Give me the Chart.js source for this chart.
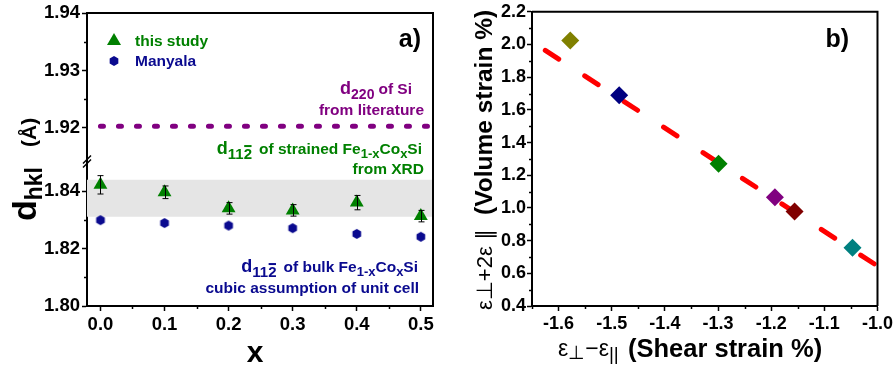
<!DOCTYPE html>
<html><head><meta charset="utf-8">
<script src="https://cdn.jsdelivr.net/npm/chart.js@4/dist/chart.umd.min.js"></script>
<style>
html,body{margin:0;padding:0;background:#fff;width:895px;height:371px;overflow:hidden}
#ca{position:absolute;left:0;top:0}
#cb{position:absolute;left:445px;top:0}
</style></head><body>
<canvas id="ca" width="445" height="371"></canvas>
<canvas id="cb" width="450" height="371"></canvas>
<script>
// ---------- data: panel a ----------
const xComposition = [0.0, 0.1, 0.2, 0.3, 0.4, 0.5];
const dThisStudy = [1.8422, 1.8396, 1.8340, 1.8333, 1.8360, 1.8313];
const dThisStudyErr = [0.0032, 0.0022, 0.0020, 0.0020, 0.0025, 0.0020];
const dManyala = [1.8299, 1.8289, 1.8280, 1.8271, 1.8251, 1.8241];
const dSi220 = 1.9203;
const siLineX = [0.0, 0.512];
const bandRange = [1.8311, 1.8440];
const xRangeA = [-0.021, 0.519];
const yRangeLow = [1.80, 1.851];
const yRangeHigh = [1.9145, 1.94];
const xTicksA = [0.0, 0.1, 0.2, 0.3, 0.4, 0.5];
const xMinorA = [0.05, 0.15, 0.25, 0.35, 0.45];
const yTicksLow = [1.80, 1.82, 1.84];
const yMinorLow = [1.81, 1.83];
const yTicksHigh = [1.92, 1.93, 1.94];
const yMinorHigh = [1.925, 1.935];

// ---------- data: panel b ----------
const shearStrain = [-1.578, -1.486, -1.299, -1.193, -1.156, -1.047];
const volumeStrain = [2.025, 1.690, 1.270, 1.066, 0.978, 0.756];
const pointColors = ['#808000', '#000080', '#008000', '#800080', '#800000', '#008080'];
const fitX = [-1.625, -1.0];
const fitY = [1.964, 0.645];
const xRangeB = [-1.65, -1.0];
const yRangeB = [0.4, 2.2];
const xTicksB = [-1.6, -1.5, -1.4, -1.3, -1.2, -1.1, -1.0];
const xMinorB = [-1.65, -1.55, -1.45, -1.35, -1.25, -1.15, -1.05];
const yTicksB = [0.4, 0.6, 0.8, 1.0, 1.2, 1.4, 1.6, 1.8, 2.0, 2.2];
const yMinorB = [0.5, 0.7, 0.9, 1.1, 1.3, 1.5, 1.7, 1.9, 2.1];

const FONT = '"Liberation Sans", Arial, Helvetica, sans-serif';
const GREEN = '#008000', NAVY = '#0a0a8f', PURPLE = '#800080';

function fixedTicks(vals) { return scale => { scale.ticks = vals.map(v => ({ value: v })); }; }

function hexStyle(r, color) {
  const c = document.createElement('canvas');
  const s = Math.ceil(2 * r + 2);
  c.width = s; c.height = s;
  const g = c.getContext('2d');
  g.fillStyle = color;
  g.beginPath();
  for (let k = 0; k < 6; k++) {
    const a = Math.PI / 6 + k * Math.PI / 3;
    const px = s / 2 + r * Math.cos(a), py = s / 2 + r * Math.sin(a);
    k ? g.lineTo(px, py) : g.moveTo(px, py);
  }
  g.closePath(); g.fill();
  return c;
}

function setFont(ctx, s) {
  ctx.font = `${s.weight || 'bold'} ${s.size}px ${s.family || FONT}`;
}
function richWidth(ctx, segs) {
  let w = 0;
  for (const s of segs) { setFont(ctx, s); w += ctx.measureText(s.t).width + (s.gap || 0); }
  return w;
}
function drawRich(ctx, segs, x, y, align, color) {
  const w = richWidth(ctx, segs);
  let cx = align === 'right' ? x - w : align === 'center' ? x - w / 2 : x;
  ctx.textAlign = 'left'; ctx.textBaseline = 'alphabetic';
  for (const s of segs) {
    setFont(ctx, s);
    ctx.fillStyle = s.color || color;
    const yy = y + (s.dy || 0);
    ctx.fillText(s.t, cx, yy);
    const sw = ctx.measureText(s.t).width;
    if (s.bar) {
      const lw = ctx.measureText(s.t.slice(-1)).width;
      ctx.fillRect(cx + sw - lw + 0.5, yy - s.size * 0.93, lw - 1, 2);
    }
    cx += sw + (s.gap || 0);
  }
}

function drawMinor(ctx, scale, vals, len, horizontal) {
  ctx.save(); ctx.strokeStyle = '#000'; ctx.lineWidth = 1.5;
  for (const v of vals) {
    const p = Math.round(scale.getPixelForValue(v)) + 0.5;
    ctx.beginPath();
    if (horizontal) { ctx.moveTo(p, scale.top); ctx.lineTo(p, scale.top + len); }
    else { ctx.moveTo(scale.right, p); ctx.lineTo(scale.right - len, p); }
    ctx.stroke();
  }
  ctx.restore();
}

function frame(ctx, area) {
  ctx.save(); ctx.strokeStyle = '#000'; ctx.lineWidth = 2;
  ctx.beginPath();
  ctx.moveTo(area.left, area.top); ctx.lineTo(area.right, area.top); ctx.lineTo(area.right, area.bottom);
  ctx.stroke(); ctx.restore();
}

const tickFontA = { family: FONT, size: 18.5, weight: 'bold' };
const tickFontB = { family: FONT, size: 18, weight: 'bold' };

// ---------- panel a ----------
const plugA = {
  id: 'plugA',
  afterDatasetsDraw(chart) {
    const ctx = chart.ctx, xs = chart.scales.x, ys = chart.scales.yLow;
    ctx.save(); ctx.strokeStyle = '#000'; ctx.lineWidth = 1;
    xComposition.forEach((xv, i) => {
      const px = Math.round(xs.getPixelForValue(xv)) + 0.5;
      const t = ys.getPixelForValue(dThisStudy[i] + dThisStudyErr[i]);
      const b = ys.getPixelForValue(dThisStudy[i] - dThisStudyErr[i]);
      ctx.beginPath();
      ctx.moveTo(px, t); ctx.lineTo(px, b);
      ctx.moveTo(px - 3, t); ctx.lineTo(px + 3, t);
      ctx.moveTo(px - 3, b); ctx.lineTo(px + 3, b);
      ctx.stroke();
    });
    ctx.restore();
  },
  afterDraw(chart) {
    const ctx = chart.ctx, a = chart.chartArea;
    frame(ctx, a);
    drawMinor(ctx, chart.scales.x, xMinorA, 3, true);
    drawMinor(ctx, chart.scales.yLow, yMinorLow, 3, false);
    drawMinor(ctx, chart.scales.yHigh, yMinorHigh, 3, false);
    // axis break marks
    const by = chart.scales.yLow.top;
    ctx.save(); ctx.strokeStyle = '#000'; ctx.lineWidth = 1.5;
    ctx.beginPath();
    ctx.moveTo(a.left - 4, by + 4); ctx.lineTo(a.left + 4, by - 4);
    ctx.moveTo(a.left - 4, by + 8); ctx.lineTo(a.left + 4, by);
    ctx.stroke(); ctx.restore();
    // legend
    ctx.save();
    ctx.fillStyle = GREEN;
    ctx.beginPath(); ctx.moveTo(114, 33); ctx.lineTo(121, 45); ctx.lineTo(107, 45); ctx.closePath(); ctx.fill();
    const hx = hexStyle(5, NAVY);
    ctx.drawImage(hx, 114 - hx.width / 2, 61 - hx.height / 2);
    ctx.restore();
    drawRich(ctx, [{ t: 'this study', size: 15.5 }], 135, 46, 'left', GREEN);
    drawRich(ctx, [{ t: 'Manyala', size: 15.5 }], 135, 66, 'left', NAVY);
    drawRich(ctx, [{ t: 'a)', size: 25 }], 421, 47, 'right', '#000');
    // annotations
    drawRich(ctx, [{ t: 'd', size: 18 }, { t: '220', size: 14, dy: 5, gap: 4 }, { t: 'of Si', size: 15.5 }], 412, 94, 'right', PURPLE);
    drawRich(ctx, [{ t: 'from literature', size: 15.5 }], 424, 115, 'right', PURPLE);
    const strained = [{ t: 'd', size: 18 }, { t: '112', size: 15, dy: 5, bar: true, gap: 7 },
      { t: 'of strained Fe', size: 15.5 }, { t: '1-x', size: 13, dy: 4 }, { t: 'Co', size: 15.5 },
      { t: 'x', size: 13, dy: 4 }, { t: 'Si', size: 15.5 }];
    drawRich(ctx, strained, 422, 154, 'right', GREEN);
    drawRich(ctx, [{ t: 'from XRD', size: 15.5 }], 424, 174, 'right', GREEN);
    const bulk = [{ t: 'd', size: 18 }, { t: '112', size: 15, dy: 5, bar: true, gap: 7 },
      { t: 'of bulk Fe', size: 15.5 }, { t: '1-x', size: 13, dy: 4 }, { t: 'Co', size: 15.5 },
      { t: 'x', size: 13, dy: 4 }, { t: 'Si', size: 15.5 }];
    drawRich(ctx, bulk, 418, 272, 'right', NAVY);
    drawRich(ctx, [{ t: 'cubic assumption of unit cell', size: 15.5 }], 419, 293, 'right', NAVY);
    // axis titles
    drawRich(ctx, [{ t: 'x', size: 30 }], 255, 362, 'center', '#000');
    ctx.save();
    ctx.translate(36, 221); ctx.rotate(-Math.PI / 2);
    drawRich(ctx, [{ t: 'd', size: 34 }, { t: 'hkl', size: 23, dy: 6, gap: 20 }, { t: '(Å)', size: 21 }], 0, 0, 'left', '#000');
    ctx.restore();
  }
};

function axisCommon(font, tl) {
  return {
    grid: { drawOnChartArea: false, drawTicks: true, tickLength: tl, tickWidth: 1.5, tickColor: '#000' },
    border: { color: '#000', width: 2 },
    ticks: { color: '#000', font: font, padding: 3, maxRotation: 0, autoSkip: false }
  };
}

const xA = axisCommon(tickFontA, 5);
xA.ticks.callback = v => Number(v).toFixed(1);
const yLowA = axisCommon(tickFontA, 5);
yLowA.ticks.callback = v => Number(v).toFixed(2);
yLowA.ticks.padding = 2;
const yHighA = axisCommon(tickFontA, 5);
yHighA.ticks.callback = v => Number(v).toFixed(2);
yHighA.ticks.padding = 2;

new Chart(document.getElementById('ca'), {
  type: 'scatter',
  data: {
    datasets: [
      { label: 'band low', data: xRangeA.map(x => ({ x, y: bandRange[0] })), yAxisID: 'yLow', showLine: true,
        pointRadius: 0, borderWidth: 0, borderColor: 'rgba(0,0,0,0)', fill: false, order: 10 },
      { label: 'band high', data: xRangeA.map(x => ({ x, y: bandRange[1] })), yAxisID: 'yLow', showLine: true,
        pointRadius: 0, borderWidth: 0, borderColor: 'rgba(0,0,0,0)', fill: '-1', backgroundColor: '#e5e5e5', order: 9 },
      { label: 'd220 Si', data: siLineX.map(x => ({ x, y: dSi220 })), yAxisID: 'yHigh', showLine: true,
        pointRadius: 0, borderColor: PURPLE, borderWidth: 5, borderDash: [3, 15], borderCapStyle: 'round', order: 3 },
      { label: 'Manyala', data: xComposition.map((x, i) => ({ x, y: dManyala[i] })), yAxisID: 'yLow',
        pointStyle: hexStyle(5, NAVY), pointRadius: 5, order: 2 },
      { label: 'this study', data: xComposition.map((x, i) => ({ x, y: dThisStudy[i] })), yAxisID: 'yLow',
        pointStyle: 'triangle', pointRadius: 8, backgroundColor: GREEN, borderColor: GREEN, borderWidth: 0, order: 1 }
    ]
  },
  options: {
    responsive: false, animation: false,
    layout: { padding: { left: 0, right: 12, top: 9, bottom: 0 } },
    plugins: { legend: { display: false }, tooltip: { enabled: false } },
    scales: {
      x: Object.assign(xA, { type: 'linear', min: xRangeA[0], max: xRangeA[1],
        afterBuildTicks: fixedTicks(xTicksA), afterFit: s => { s.height = 65; } }),
      yLow: Object.assign(yLowA, { type: 'linear', position: 'left', stack: 'ya', stackWeight: 1,
        min: yRangeLow[0], max: yRangeLow[1], afterBuildTicks: fixedTicks(yTicksLow), afterFit: s => { s.width = 87; } }),
      yHigh: Object.assign(yHighA, { type: 'linear', position: 'left', stack: 'ya', stackWeight: 1,
        min: yRangeHigh[0], max: yRangeHigh[1], afterBuildTicks: fixedTicks(yTicksHigh), afterFit: s => { s.width = 87; } })
    }
  },
  plugins: [plugA]
});

// ---------- panel b ----------
const plugB = {
  id: 'plugB',
  afterDraw(chart) {
    const ctx = chart.ctx, a = chart.chartArea;
    frame(ctx, a);
    drawMinor(ctx, chart.scales.x, xMinorB, 3, true);
    drawMinor(ctx, chart.scales.y, yMinorB, 3, false);
    drawRich(ctx, [{ t: 'b)', size: 25 }], 404, 47, 'right', '#000');
    // x title
    drawRich(ctx, [{ t: 'ε', size: 23, weight: 'normal' }, { t: '⊥', size: 19, weight: 'normal', dy: 3 },
      { t: '−ε', size: 23, weight: 'normal' }, { t: '||', size: 19, weight: 'normal', dy: 4 }], 113, 356, 'left', '#000');
    drawRich(ctx, [{ t: '(Shear strain %)', size: 25.5 }], 183, 357, 'left', '#000');
    // y title
    ctx.save();
    ctx.translate(47, 310); ctx.rotate(-Math.PI / 2);
    drawRich(ctx, [{ t: 'ε⊥+2ε ∥', size: 22, weight: 'normal' }], 0, 0, 'left', '#000');
    drawRich(ctx, [{ t: '(Volume strain %)', size: 24.5 }], 95, 0, 'left', '#000');
    ctx.restore();
  }
};

const xB = axisCommon(tickFontB, 5);
xB.ticks.callback = v => Number(v).toFixed(1);
xB.ticks.padding = 2;
const yB = axisCommon(tickFontB, 5);
yB.ticks.callback = v => Number(v).toFixed(1);
yB.ticks.padding = 1;

new Chart(document.getElementById('cb'), {
  type: 'scatter',
  data: {
    datasets: [
      { label: 'fit', data: fitX.map((x, i) => ({ x, y: fitY[i] })), showLine: true, pointRadius: 0,
        borderColor: '#ff0000', borderWidth: 5, borderDash: [16, 31], borderCapStyle: 'round', order: 2 },
      { label: 'strain', data: shearStrain.map((x, i) => ({ x, y: volumeStrain[i] })),
        pointStyle: 'rectRot', pointRadius: 9, backgroundColor: pointColors, borderColor: pointColors, borderWidth: 0, order: 1 }
    ]
  },
  options: {
    responsive: false, animation: false,
    layout: { padding: { left: 0, right: 16.7, top: 9, bottom: 0 } },
    plugins: { legend: { display: false }, tooltip: { enabled: false } },
    scales: {
      x: Object.assign(xB, { type: 'linear', min: xRangeB[0], max: xRangeB[1],
        afterBuildTicks: fixedTicks(xTicksB), afterFit: s => { s.height = 65; } }),
      y: Object.assign(yB, { type: 'linear', position: 'left', min: yRangeB[0], max: yRangeB[1],
        afterBuildTicks: fixedTicks(yTicksB), afterFit: s => { s.width = 87; } })
    }
  },
  plugins: [plugB]
});
</script>
</body></html>
